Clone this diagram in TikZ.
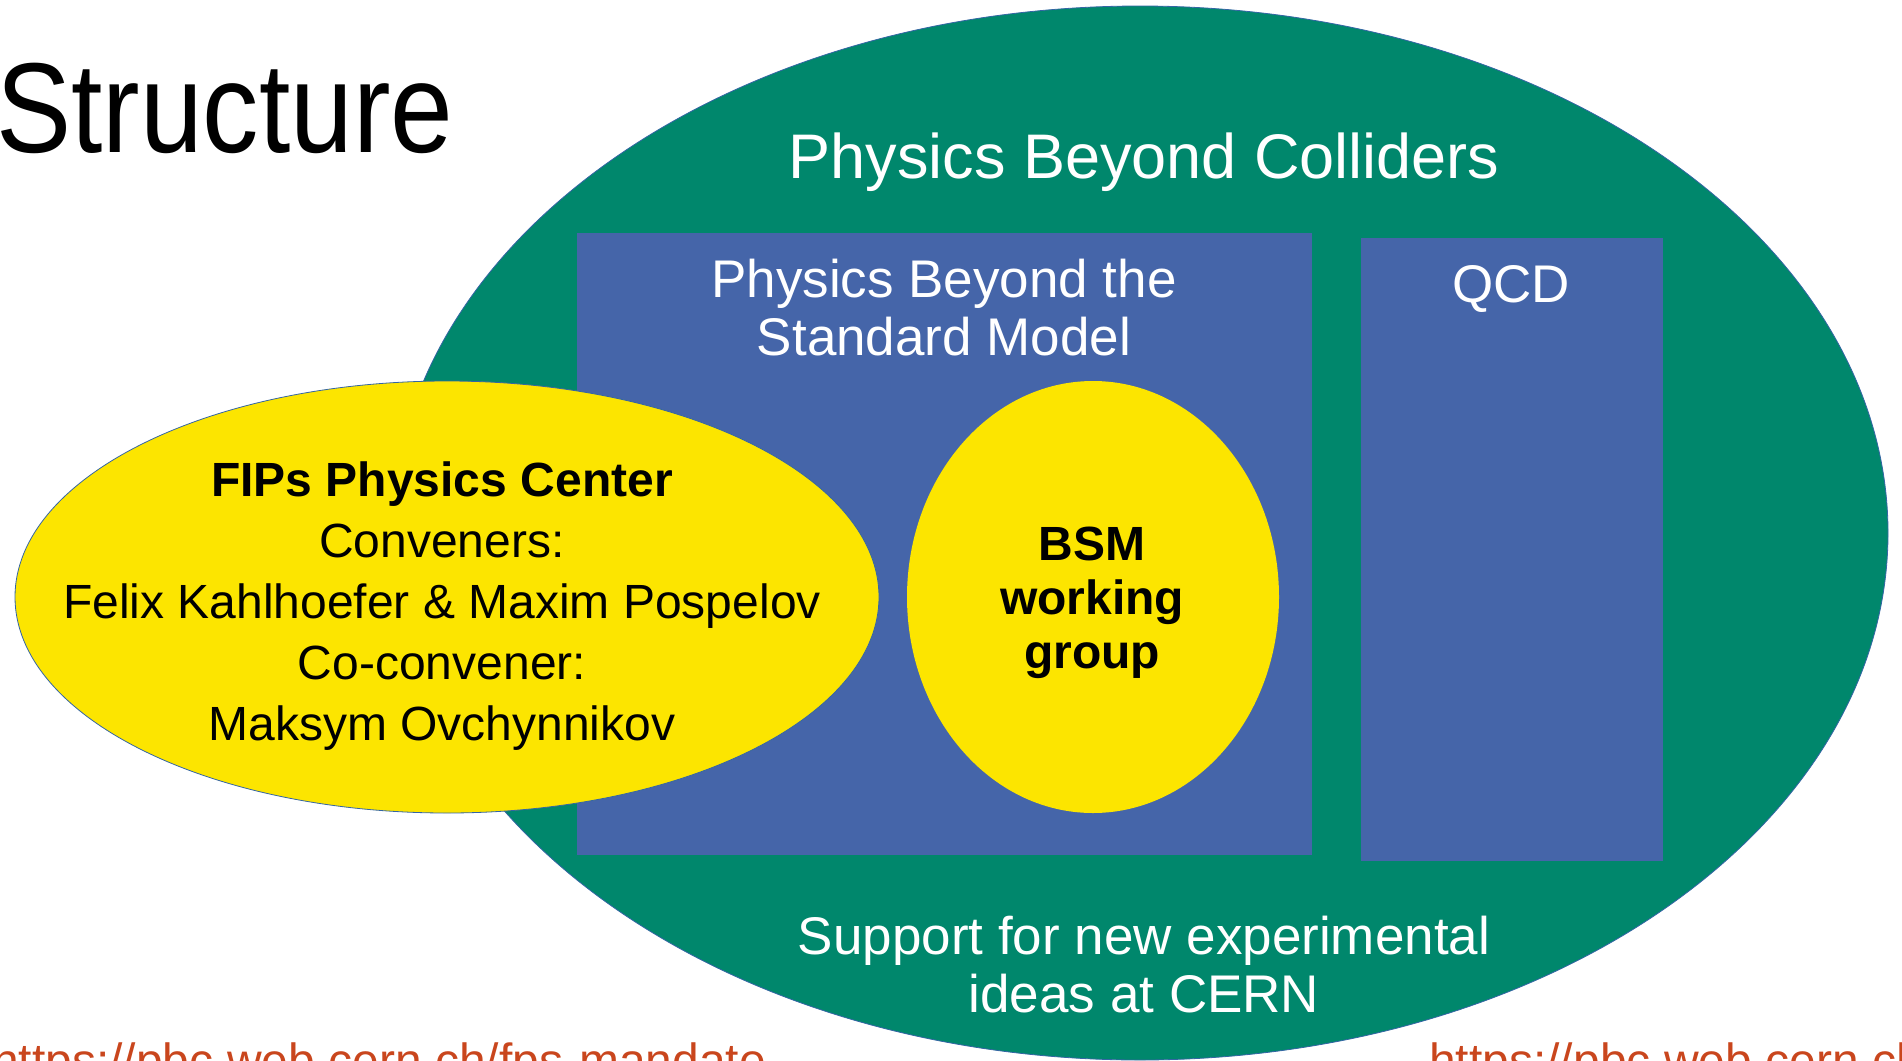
\documentclass[tikz,border=0pt]{standalone}
\usepackage{fontspec}
\setmainfont{Liberation Sans}
\newfontfamily\narrowfont[FakeStretch=0.88]{Liberation Sans}

\definecolor{pbcgreen}{HTML}{00876C}
\definecolor{pbcblue}{HTML}{4565A9}
\definecolor{fipyellow}{HTML}{FCE500}
\definecolor{edgeblue}{HTML}{3465A4}
\definecolor{linkred}{HTML}{C9461D}

\tikzset{
  headtext/.style={text=white, inner sep=0pt, anchor=base, font=\fontsize{63}{76}\selectfont},
  boxtext/.style={text=white, inner sep=0pt, anchor=base, align=center, font=\fontsize{53}{58}\selectfont},
  fiptext/.style={inner sep=0pt, anchor=base, align=center, font=\fontsize{48}{61}\selectfont},
  wgtext/.style={inner sep=0pt, anchor=base, align=center, font=\bfseries\fontsize{48}{54}\selectfont},
  linktext/.style={text=linkred, inner sep=0pt, anchor=base west, font=\fontsize{48}{58}\selectfont}
}

\begin{document}
\begin{tikzpicture}[x=1pt, y=-1pt]
	\useasboundingbox (0,0) rectangle (1902,1060);
	\clip (0,0) rectangle (1902,1060);

	% outer programme
	\filldraw [fill=pbcgreen, draw=edgeblue, line width=0.8pt] (1140,533) ellipse [x radius=748pt, y radius=527pt];

	% the two study groups
	\fill [pbcblue] (577,233) rectangle (1312,855);
	\fill [pbcblue] (1361,238) rectangle (1663,861);

	% centre and working group
	\filldraw [fill=fipyellow, draw=edgeblue, line width=0.8pt] (447,597) ellipse [x radius=432pt, y radius=216pt];
	\fill [fipyellow] (1093,597) ellipse [x radius=186pt, y radius=216pt];

	\node [inner sep=0pt, anchor=base west, font=\narrowfont\fontsize{128}{150}\selectfont] (title) at (-4,152) {Structure};

	% multi-line nodes sit on the baseline of their last line
	\node [headtext] (pbc) at (1144,178) {Physics Beyond Colliders};
	\node [boxtext] (bsm) at (944,355) {Physics Beyond the\\Standard Model};
	\node [boxtext] (qcd) at (1511,302) {QCD};
	\node [boxtext] (support) at (1144,1012) {Support for new experimental\\ideas at CERN};

	\node [fiptext] (fips) at (442,740) {\textbf{FIPs Physics Center}\\Conveners:\\Felix Kahlhoefer \& Maxim Pospelov\\Co-convener:\\Maksym Ovchynnikov};
	\node [wgtext] (wg) at (1092,668) {BSM\\working\\group};

	\node [linktext] (fpslink) at (-8,1077) {https://pbc.web.cern.ch/fps-mandate};
	\node [linktext] (pbclink) at (1429,1077) {https://pbc.web.cern.ch/};
\end{tikzpicture}
\end{document}
